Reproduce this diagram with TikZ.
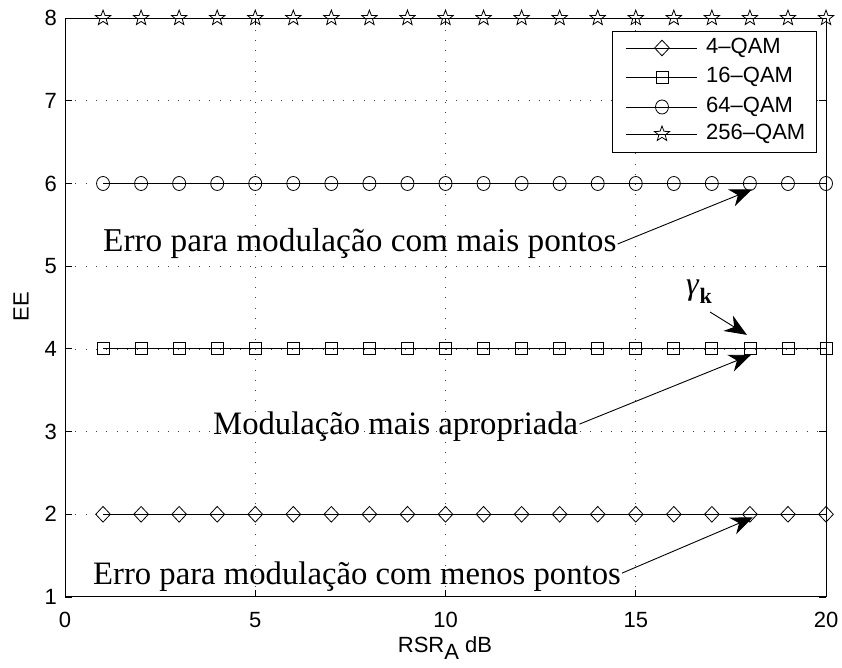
\documentclass[tikz,border=0pt]{standalone}
\usepackage{fontspec}
\setmainfont{Liberation Serif}
\newfontfamily\axfont{Liberation Sans}
\usetikzlibrary{shapes.geometric,arrows.meta}
\begin{document}
\begin{tikzpicture}[x=1pt,y=1pt,
  axtext/.style={font=\axfont\fontsize{22}{26}\selectfont, inner sep=0pt},
  annot/.style={font=\fontsize{32.7}{38}\selectfont, inner sep=0pt},
  gridline/.style={draw=black!75, line width=0.6pt, dash pattern=on 0.8pt off 9.5pt},
  mk/.style={draw=black, line width=0.8pt, inner sep=0pt},
  mdiam/.style={mk, diamond, minimum width=15pt, minimum height=16pt},
  msq/.style={mk, rectangle, minimum size=12pt},
  mcirc/.style={mk, ellipse, minimum width=13pt, minimum height=14pt},
  mstar/.style={mk, star, star points=5, star point ratio=2.4, minimum size=16pt},
  series/.style={line width=0.8pt},
  callout/.style={line width=0.9pt, -{Stealth[length=22pt,width=18pt,inset=7pt]}}
]
\useasboundingbox (0,0) rectangle (842,668);
\fill[white] (0,0) rectangle (842,668);

\begin{scope}[shift={(65,71)}, x=38.05pt, y=82.7pt]
  % grid
  \foreach \v in {5,10,15} \draw[gridline] (\v,0) -- (\v,7);
  \foreach \e in {2,...,7} \draw[gridline] (0,\e-1) -- (20,\e-1);
  % ticks
  \foreach \v in {0,5,...,20} {
    \draw[line width=0.8pt] (\v,0) -- ++(0,7pt);
    \draw[line width=0.8pt] (\v,7) -- ++(0,-7pt);
    \node[axtext, anchor=north] (xt\v) at ([yshift=-15pt]\v,0) {\v};
  }
  \foreach \e in {1,...,8} {
    \draw[line width=0.8pt] (0,\e-1) -- ++(7pt,0);
    \draw[line width=0.8pt] (20,\e-1) -- ++(-7pt,0);
    \node[axtext, anchor=east] (yt\e) at ([xshift=-8pt]0,\e-1) {\e};
  }
  % series
  \draw[series] (1,1) -- (20,1);
  \draw[series] (1,3) -- (20,3);
  \draw[series] (1,5) -- (20,5);
  \draw[series] (1,7) -- (20,7);
  \foreach \v in {1,...,20} {
    \node[mdiam] (d\v) at (\v,1) {};
    \node[msq] (s\v) at (\v,3) {};
    \node[mcirc] (c\v) at (\v,5) {};
    \node[mstar] (p\v) at (\v,7) {};
  }
  % axes box
  \draw[line width=1pt] (0,0) rectangle (20,7);
\end{scope}

% axis labels
\node[axtext, anchor=base] (xlab) at (445,15) {RSR\raisebox{-7pt}{A} dB};
\node[axtext, rotate=90] (ylab) at (21,361) {EE};

% legend
\node[draw, fill=white, line width=0.8pt, minimum width=204pt, minimum height=121pt, inner sep=0pt] (leg) at (714,576.5) {};
\draw[series] (626,620) -- (697,620);
\node[mdiam] (l1) at (662,620) {};
\node[axtext, anchor=west] (lt1) at (706,620) {4–QAM};
\draw[series] (626,591) -- (697,591);
\node[msq] (l2) at (662,591) {};
\node[axtext, anchor=west] (lt2) at (706,591) {16–QAM};
\draw[series] (626,561) -- (697,561);
\node[mcirc] (l3) at (662,561) {};
\node[axtext, anchor=west] (lt3) at (706,561) {64–QAM};
\draw[series] (626,534) -- (697,534);
\node[mstar] (l4) at (662,534) {};
\node[axtext, anchor=west] (lt4) at (706,534) {256–QAM};

% annotations
\node[annot, anchor=base west, font=\fontsize{33.3}{38}\selectfont] (t1) at (103,416) {Erro para modulação com mais pontos};
\node[annot, anchor=base west] (t2) at (213,233) {Modulação mais apropriada};
\node[annot, anchor=base west] (t3) at (93,83) {Erro para modulação com menos pontos};
\node[anchor=base west, inner sep=0pt, font=\fontsize{32}{36}\selectfont] (gk) at (686,373) {\textit{γ}\raisebox{-9pt}{\fontsize{22}{24}\selectfont\bfseries k}};

\coordinate (a1s) at ([xshift=1pt]t1.east);
\coordinate (a1e) at ([shift={(2pt,-6pt)}]c18.center);
\coordinate (a0s) at (710,356);
\coordinate (a0e) at ([shift={(-3pt,14pt)}]s18.center);
\coordinate (a2s) at ([shift={(1pt,3pt)}]t2.east);
\coordinate (a2e) at ([shift={(1pt,-6pt)}]s18.center);
\coordinate (a3s) at ([shift={(1pt,4pt)}]t3.east);
\coordinate (a3e) at ([shift={(3pt,-3pt)}]d18.center);
\draw[callout] (a1s) -- (a1e);
\draw[callout] (a0s) -- (a0e);
\draw[callout] (a2s) -- (a2e);
\draw[callout] (a3s) -- (a3e);
\end{tikzpicture}
\end{document}
